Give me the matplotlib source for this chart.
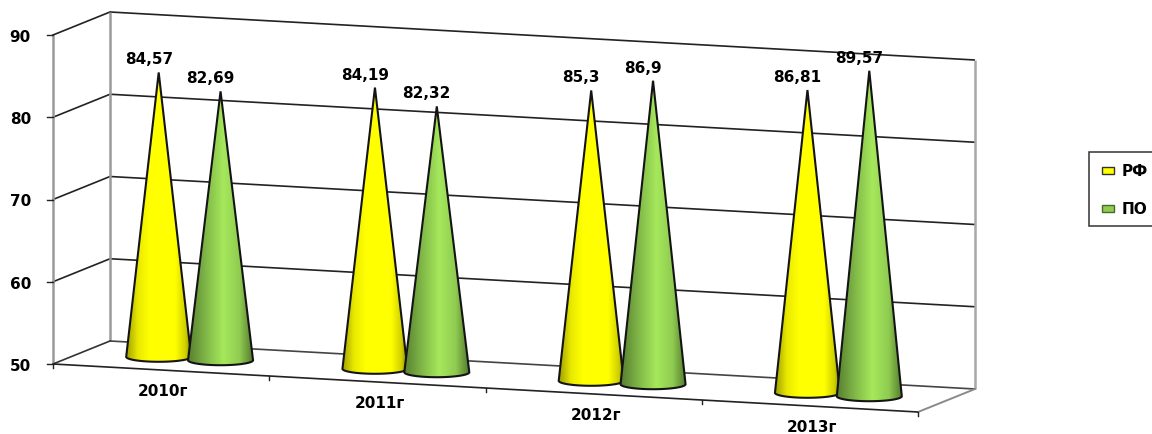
import numpy as np
import matplotlib.pyplot as plt
from matplotlib.colors import LinearSegmentedColormap
from matplotlib.patches import Polygon, Rectangle
from matplotlib.transforms import Affine2D

years = ["2010г", "2011г", "2012г", "2013г"]
rf = [84.57, 84.19, 85.3, 86.81]
po = [82.69, 82.32, 86.9, 89.57]
rf_text = ["84,57", "84,19", "85,3", "86,81"]
po_text = ["82,69", "82,32", "86,9", "89,57"]
yticks = [50, 60, 70, 80, 90]

plt.rcParams['font.family'] = ['DejaVu Sans']
fig = plt.figure(figsize=(11.52, 4.34), dpi=100)
ax = fig.add_axes([0, 0, 1, 1])
ax.axis('off')

# oblique projection: (category, value) -> pixels, one plane per depth
front = Affine2D.from_values(216.25, 12, 0, -8.225, 53, 364 + 50 * 8.225)
mid = front + Affine2D().translate(28.5, -11.5)
back = front + Affine2D().translate(57, -23)

yellow_map = LinearSegmentedColormap.from_list('y', [(0, '#a0a000'), (0.18, '#e8e800'), (0.36, '#ffff00'),
                                                     (0.76, '#ffff00'), (0.92, '#d0d000'), (1, '#8a8a00')])
green_map = LinearSegmentedColormap.from_list('g', [(0, '#587f30'), (0.3, '#84bd4a'), (0.55, '#a6e85c'),
                                                    (0.8, '#8fcb50'), (1, '#557b2f')])


def line(tr, xs, ys, color='#222222', lw=1.2):
    ax.plot(xs, ys, color=color, lw=lw, transform=tr + ax.transData, solid_capstyle='butt', zorder=2)


# back wall, side wall and floor
for v in yticks[1:]:
    line(back, [0, 4], [v, v])
    p0 = front.transform((0, v))
    p1 = back.transform((0, v))
    ax.plot([p0[0], p1[0]], [p0[1], p1[1]], color='#222222', lw=1.2, zorder=2)
line(front, [0, 0], [50, 90], color='#9a9a9a', lw=1.8)
line(back, [0, 0], [50, 90], color='#9a9a9a', lw=1.8)
line(back, [4, 4], [50, 90], color='#a8a8a8', lw=1.8)
line(back, [0, 4], [50, 50], color='#444444')

p0 = front.transform((0, 50))
p1 = back.transform((0, 50))
ax.plot([p0[0], p1[0]], [p0[1], p1[1]], color='#333333', lw=1.2, zorder=2)
p0 = front.transform((4, 50))
p1 = back.transform((4, 50))
ax.plot([p0[0], p1[0]], [p0[1], p1[1]], color='#8a8a8a', lw=1.4, zorder=2)
line(front, [0, 4], [50, 50])

# tick marks and labels
for v in yticks:
    x, y = front.transform((0, v))
    ax.plot([x - 6, x], [y, y], color='#222222', lw=1, zorder=2)
    ax.text(31, y + 2.5, str(v), ha='right', va='center', fontsize=11, fontweight='bold', color='black')
for i in range(5):
    x, y = front.transform((i, 50))
    ax.plot([x, x], [y, y + 4], color='#222222', lw=1, zorder=2)
for i, name in enumerate(years):
    x, y = front.transform((i + 0.5, 50))
    ax.text(x + 2, y + 21.5, name, ha='center', va='center', fontsize=11, fontweight='bold', color='black')


def cone(cat, value, cmap, zorder):
    cx, y0 = mid.transform((cat, 50))
    tip = mid.transform((cat, value))[1]
    r = 32.5
    b = 5
    t = np.linspace(np.pi, 0, 50)
    xs = cx + r * np.cos(t)
    ys = y0 + b * np.sin(t)
    outline = np.vstack([[cx, tip], np.column_stack([xs, ys])])

    img = ax.imshow(np.linspace(0, 1, 128).reshape(1, -1), cmap=cmap, aspect='auto',
                    extent=(cx - r, cx + r, y0 + b, tip), zorder=zorder, interpolation='bilinear')
    patch = Polygon(outline, closed=True, facecolor='none', edgecolor='#141414', lw=1.5,
                    joinstyle='miter', zorder=zorder + 0.1)
    ax.add_patch(patch)
    img.set_clip_path(patch)


def value_label(cat, value, text):
    x, y = mid.transform((cat, value))
    ax.text(x - 10, y - 12.5, text, ha='center', va='center', fontsize=11, fontweight='bold',
            color='black', zorder=20)


for i in range(len(years)):
    cone(i + 0.357, rf[i], yellow_map, 5 + 2 * i)
    cone(i + 0.643, po[i], green_map, 6 + 2 * i)
    value_label(i + 0.357, rf[i], rf_text[i])
    value_label(i + 0.643, po[i], po_text[i])

# legend box runs off the right edge
ax.add_patch(Rectangle((1089, 152), 80, 74, facecolor='white', edgecolor='#333333', lw=1.1, zorder=3))
ax.add_patch(Rectangle((1102, 167), 12, 7, facecolor='#ffff00', edgecolor='#333333', lw=1, zorder=4))
ax.add_patch(Rectangle((1102, 205), 12, 7, facecolor='#8fcc50', edgecolor='#4a6a2a', lw=1, zorder=4))
ax.text(1122, 171, "РФ", ha='left', va='center', fontsize=11, fontweight='bold', color='black', zorder=4)
ax.text(1122, 209, "ПО", ha='left', va='center', fontsize=11, fontweight='bold', color='black', zorder=4)

ax.set_xlim(0, 1152)
ax.set_ylim(434, 0)
fig.savefig('out.png', dpi=100)
